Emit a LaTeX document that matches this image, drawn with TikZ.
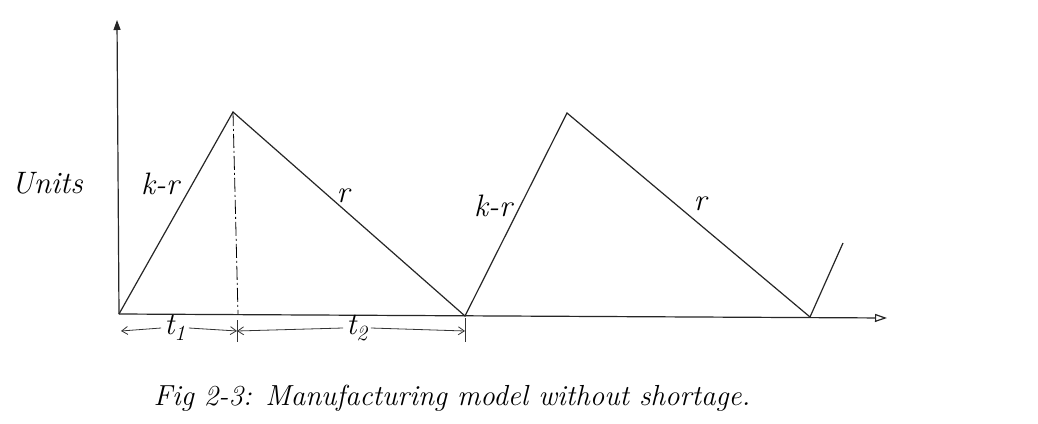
\documentclass[tikz,border=0pt]{standalone}
\usepackage{fontspec}
\usetikzlibrary{arrows.meta}
\begin{document}
\begin{tikzpicture}[x=1pt,y=-1pt,
  line/.style={line width=1.2pt, black!85},
  lbl/.style={font=\itshape\fontsize{31}{34}\selectfont, inner sep=3pt},
  captiontext/.style={font=\itshape\fontsize{29}{32}\selectfont, inner sep=1pt},
  dim/.style={line width=0.8pt, black!80}]
\useasboundingbox[fill=white] (0,0) rectangle (1038,423);
% points
\coordinate (O) at (119,314);
\coordinate (ytop) at (117,20);
\coordinate (xend) at (887,318);
\coordinate (P1) at (233,112);
\coordinate (F1) at (238,314);
\coordinate (Z1) at (465,316);
\coordinate (P2) at (567,113);
\coordinate (Z2) at (810,317);
\coordinate (E) at (843,243);
% axes
\draw[line, -{Triangle[length=10pt,width=7pt]}] (O) -- (ytop);
\draw[line, -{Triangle[open,length=12pt,width=8pt]}] (O) -- (xend);
% saw-tooth
\draw[line] (O) -- (P1) -- (Z1) -- (P2) -- (Z2) -- (E);
\draw[line width=0.8pt, dash pattern=on 14pt off 3pt on 2pt off 3pt] (P1) -- (F1);
% dimension lines
\coordinate (d0) at (121,331);
\coordinate (d1) at (237,331);
\coordinate (d2) at (465,331);
\draw[dim] (237,320) -- (237,342);
\draw[dim] (465,318) -- (465,342);
\node[lbl] (t1) at (175,328) {t\textsubscript{1}};
\node[lbl] (t2) at (357,328) {t\textsubscript{2}};
\draw[dim, -{Straight Barb[length=6pt,width=8pt]}] (t1.west) -- (d0);
\draw[dim, -{Straight Barb[length=6pt,width=8pt]}] (t1.east) -- (d1);
\draw[dim, -{Straight Barb[length=6pt,width=8pt]}] (t2.west) -- (d1);
\draw[dim, -{Straight Barb[length=6pt,width=8pt]}] (t2.east) -- (d2);
% labels
\node[lbl] (units) at (47,183) {Units};
\node[lbl] (kr1) at (160,184) {k-r};
\node[lbl] (r1) at (343,196) {r};
\node[lbl] (kr2) at (493,206) {k-r};
\node[lbl] (r2) at (700,204) {r};
\node[captiontext] (caption) at (452,398) {Fig 2-3: Manufacturing model without shortage.};
\end{tikzpicture}
\end{document}
